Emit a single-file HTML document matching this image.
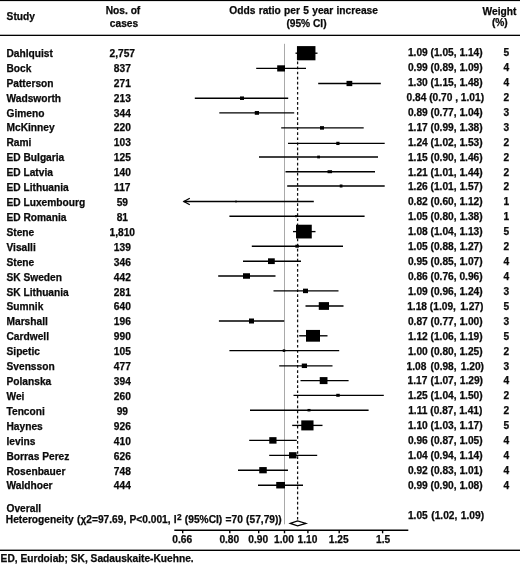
<!DOCTYPE html><html><head><meta charset="utf-8"><title>Forest plot</title>
<style>html,body{margin:0;padding:0;background:#fff}svg{display:block}text{font-family:"Liberation Sans",Arial,sans-serif;font-weight:bold;font-size:10.2px;fill:#0a0a0a;stroke:#0a0a0a;stroke-width:0.25px}.ax{font-size:10.2px}</style></head><body>
<svg width="520" height="564" viewBox="0 0 520 564" style="will-change:transform;filter:grayscale(1)">
<rect width="520" height="564" fill="#fff"/>
<rect x="0" y="0" width="520" height="1.1" fill="#000"/>
<rect x="0" y="34.7" width="520" height="1.3" fill="#000"/>
<rect x="0" y="549.6" width="520" height="1.4" fill="#000"/>
<text x="6.6" y="20.4">Study</text>
<text x="123" y="13.9" text-anchor="middle">Nos. of</text>
<text x="124" y="26.7" text-anchor="middle">cases</text>
<text x="303.6" y="14.0" text-anchor="middle" word-spacing="0.5">Odds ratio per 5 year increase</text>
<text x="306.5" y="26.6" text-anchor="middle">(95% CI)</text>
<text x="499.5" y="14.7" text-anchor="middle">Weight</text>
<text x="499.8" y="26.0" text-anchor="middle">(%)</text>
<line x1="284.5" y1="43.8" x2="284.5" y2="524.3" stroke="#999" stroke-width="0.85"/>
<line x1="297.6" y1="51.4" x2="297.6" y2="520.2" stroke="#111" stroke-width="1.25" stroke-dasharray="2.7,2.36"/>
<text x="6.5" y="56.80">Dahlquist</text>
<text x="122.3" y="56.80" text-anchor="middle">2,757</text>
<text x="445.3" y="56.20" text-anchor="middle" word-spacing="0">1.09 (1.05, 1.14)</text>
<text x="506.4" y="56.20" text-anchor="middle">5</text>
<line x1="295.5" y1="53.20" x2="317.5" y2="53.20" stroke="#000" stroke-width="1.35"/>
<rect x="296.95" y="46.10" width="18.50" height="14.20" fill="#000"/>
<text x="6.5" y="71.72">Bock</text>
<text x="122.3" y="71.72" text-anchor="middle">837</text>
<text x="445.3" y="71.12" text-anchor="middle" word-spacing="0">0.99 (0.89, 1.09)</text>
<text x="506.4" y="71.12" text-anchor="middle">4</text>
<line x1="256.2" y1="68.40" x2="306.0" y2="68.40" stroke="#000" stroke-width="1.35"/>
<rect x="277.20" y="65.30" width="7.80" height="6.20" fill="#000"/>
<text x="6.5" y="86.64">Patterson</text>
<text x="122.3" y="86.64" text-anchor="middle">271</text>
<text x="445.3" y="86.04" text-anchor="middle" word-spacing="0">1.30 (1.15, 1.48)</text>
<text x="506.4" y="86.04" text-anchor="middle">4</text>
<line x1="318.2" y1="83.50" x2="380.8" y2="83.50" stroke="#000" stroke-width="1.35"/>
<rect x="346.52" y="80.88" width="5.75" height="5.25" fill="#000"/>
<text x="6.5" y="101.56">Wadsworth</text>
<text x="122.3" y="101.56" text-anchor="middle">213</text>
<text x="445.3" y="100.96" text-anchor="middle" word-spacing="0">0.84 (0.70 , 1.01)</text>
<text x="506.4" y="100.96" text-anchor="middle">2</text>
<line x1="194.8" y1="98.20" x2="288.2" y2="98.20" stroke="#000" stroke-width="1.35"/>
<rect x="240.00" y="96.45" width="4.00" height="3.50" fill="#000"/>
<text x="6.5" y="117.08">Gimeno</text>
<text x="122.3" y="117.08" text-anchor="middle">344</text>
<text x="445.3" y="116.48" text-anchor="middle" word-spacing="0">0.89 (0.77, 1.04)</text>
<text x="506.4" y="116.48" text-anchor="middle">3</text>
<line x1="219.3" y1="112.90" x2="294.2" y2="112.90" stroke="#000" stroke-width="1.35"/>
<rect x="254.77" y="111.03" width="4.25" height="3.75" fill="#000"/>
<text x="6.5" y="131.40">McKinney</text>
<text x="122.3" y="131.40" text-anchor="middle">220</text>
<text x="445.3" y="130.80" text-anchor="middle" word-spacing="0">1.17 (0.99, 1.38)</text>
<text x="506.4" y="130.80" text-anchor="middle">3</text>
<line x1="281.2" y1="127.90" x2="363.7" y2="127.90" stroke="#000" stroke-width="1.35"/>
<rect x="320.00" y="126.15" width="4.00" height="3.50" fill="#000"/>
<text x="6.5" y="146.32">Rami</text>
<text x="122.3" y="146.32" text-anchor="middle">103</text>
<text x="445.3" y="145.72" text-anchor="middle" word-spacing="0">1.24 (1.02, 1.53)</text>
<text x="506.4" y="145.72" text-anchor="middle">2</text>
<line x1="288.0" y1="143.40" x2="384.7" y2="143.40" stroke="#000" stroke-width="1.35"/>
<rect x="336.27" y="141.78" width="3.25" height="3.25" fill="#000"/>
<text x="6.5" y="161.24">ED Bulgaria</text>
<text x="122.3" y="161.24" text-anchor="middle">125</text>
<text x="445.3" y="160.64" text-anchor="middle" word-spacing="0">1.15 (0.90, 1.46)</text>
<text x="506.4" y="160.64" text-anchor="middle">2</text>
<line x1="259.0" y1="157.00" x2="378.0" y2="157.00" stroke="#000" stroke-width="1.35"/>
<rect x="317.23" y="155.62" width="2.75" height="2.75" fill="#000"/>
<text x="6.5" y="176.16">ED Latvia</text>
<text x="122.3" y="176.16" text-anchor="middle">140</text>
<text x="445.3" y="175.56" text-anchor="middle" word-spacing="0">1.21 (1.01, 1.44)</text>
<text x="506.4" y="175.56" text-anchor="middle">2</text>
<line x1="285.5" y1="171.70" x2="375.0" y2="171.70" stroke="#000" stroke-width="1.35"/>
<rect x="327.55" y="170.20" width="4.50" height="3.00" fill="#000"/>
<text x="6.5" y="191.08">ED Lithuania</text>
<text x="122.3" y="191.08" text-anchor="middle">117</text>
<text x="445.3" y="190.48" text-anchor="middle" word-spacing="0">1.26 (1.01, 1.57)</text>
<text x="506.4" y="190.48" text-anchor="middle">2</text>
<line x1="287.2" y1="186.00" x2="384.7" y2="186.00" stroke="#000" stroke-width="1.35"/>
<rect x="339.73" y="184.50" width="2.75" height="3.00" fill="#000"/>
<text x="6.5" y="206.00">ED Luxembourg</text>
<text x="122.3" y="206.00" text-anchor="middle">59</text>
<text x="445.3" y="205.40" text-anchor="middle" word-spacing="0">0.82 (0.60, 1.12)</text>
<text x="506.4" y="205.40" text-anchor="middle">1</text>
<path d="M189.8 198.2 L183.9 201.5 L189.8 204.8" fill="none" stroke="#000" stroke-width="1.3" stroke-linejoin="miter"/>
<line x1="183.6" y1="201.50" x2="313.8" y2="201.50" stroke="#000" stroke-width="1.55"/>
<rect x="235.25" y="200.60" width="1.50" height="1.80" fill="#000"/>
<text x="6.5" y="220.92">ED Romania</text>
<text x="122.3" y="220.92" text-anchor="middle">81</text>
<text x="445.3" y="220.32" text-anchor="middle" word-spacing="0">1.05 (0.80, 1.38)</text>
<text x="506.4" y="220.32" text-anchor="middle">1</text>
<line x1="229.4" y1="216.20" x2="364.6" y2="216.20" stroke="#000" stroke-width="1.35"/>
<rect x="295.00" y="215.20" width="2.00" height="2.00" fill="#000"/>
<text x="6.5" y="235.84">Stene</text>
<text x="122.3" y="235.84" text-anchor="middle">1,810</text>
<text x="445.3" y="235.24" text-anchor="middle" word-spacing="0">1.08 (1.04, 1.13)</text>
<text x="506.4" y="235.24" text-anchor="middle">5</text>
<line x1="293.0" y1="231.60" x2="315.5" y2="231.60" stroke="#000" stroke-width="1.35"/>
<rect x="296.02" y="224.72" width="15.75" height="13.75" fill="#000"/>
<text x="6.5" y="250.76">Visalli</text>
<text x="122.3" y="250.76" text-anchor="middle">139</text>
<text x="445.3" y="250.16" text-anchor="middle" word-spacing="0">1.05 (0.88, 1.27)</text>
<text x="506.4" y="250.16" text-anchor="middle">2</text>
<line x1="251.8" y1="246.20" x2="343.0" y2="246.20" stroke="#000" stroke-width="1.35"/>
<rect x="295.35" y="244.70" width="3.50" height="3.00" fill="#000"/>
<text x="6.5" y="265.68">Stene</text>
<text x="122.3" y="265.68" text-anchor="middle">346</text>
<text x="445.3" y="265.08" text-anchor="middle" word-spacing="0">0.95 (0.85, 1.07)</text>
<text x="506.4" y="265.08" text-anchor="middle">4</text>
<line x1="243.0" y1="261.20" x2="301.0" y2="261.20" stroke="#000" stroke-width="1.35"/>
<rect x="268.02" y="258.32" width="6.75" height="5.75" fill="#000"/>
<text x="6.5" y="280.60">SK Sweden</text>
<text x="122.3" y="280.60" text-anchor="middle">442</text>
<text x="445.3" y="280.00" text-anchor="middle" word-spacing="0">0.86 (0.76, 0.96)</text>
<text x="506.4" y="280.00" text-anchor="middle">4</text>
<line x1="218.2" y1="276.00" x2="275.5" y2="276.00" stroke="#000" stroke-width="1.35"/>
<rect x="243.00" y="273.25" width="7.00" height="5.50" fill="#000"/>
<text x="6.5" y="295.52">SK Lithuania</text>
<text x="122.3" y="295.52" text-anchor="middle">281</text>
<text x="445.3" y="294.92" text-anchor="middle" word-spacing="0">1.09 (0.96, 1.24)</text>
<text x="506.4" y="294.92" text-anchor="middle">3</text>
<line x1="273.5" y1="290.90" x2="338.5" y2="290.90" stroke="#000" stroke-width="1.35"/>
<rect x="303.00" y="288.65" width="5.00" height="4.50" fill="#000"/>
<text x="6.5" y="310.44">Sumnik</text>
<text x="122.3" y="310.44" text-anchor="middle">640</text>
<text x="445.3" y="309.84" text-anchor="middle" word-spacing="0">1.18 (1.09,<tspan dx="1.4"> 1.27)</tspan></text>
<text x="506.4" y="309.84" text-anchor="middle">5</text>
<line x1="305.5" y1="306.00" x2="343.5" y2="306.00" stroke="#000" stroke-width="1.35"/>
<rect x="318.77" y="302.12" width="10.25" height="7.75" fill="#000"/>
<text x="6.5" y="325.36">Marshall</text>
<text x="122.3" y="325.36" text-anchor="middle">196</text>
<text x="445.3" y="324.76" text-anchor="middle" word-spacing="0">0.87 (0.77, 1.00)</text>
<text x="506.4" y="324.76" text-anchor="middle">3</text>
<line x1="218.9" y1="321.00" x2="284.2" y2="321.00" stroke="#000" stroke-width="1.35"/>
<rect x="249.00" y="318.50" width="5.00" height="5.00" fill="#000"/>
<text x="6.5" y="340.28">Cardwell</text>
<text x="122.3" y="340.28" text-anchor="middle">990</text>
<text x="445.3" y="339.68" text-anchor="middle" word-spacing="0">1.12 (1.06, 1.19)</text>
<text x="506.4" y="339.68" text-anchor="middle">5</text>
<line x1="299.2" y1="335.80" x2="327.5" y2="335.80" stroke="#000" stroke-width="1.35"/>
<rect x="306.00" y="329.93" width="14.00" height="11.75" fill="#000"/>
<text x="6.5" y="355.20">Sipetic</text>
<text x="122.3" y="355.20" text-anchor="middle">105</text>
<text x="445.3" y="354.60" text-anchor="middle" word-spacing="0">1.00 (0.80, 1.25)</text>
<text x="506.4" y="354.60" text-anchor="middle">2</text>
<line x1="229.4" y1="350.60" x2="339.2" y2="350.60" stroke="#000" stroke-width="1.35"/>
<rect x="282.75" y="349.35" width="2.50" height="2.50" fill="#000"/>
<text x="6.5" y="370.12">Svensson</text>
<text x="122.3" y="370.12" text-anchor="middle">477</text>
<text x="445.3" y="369.52" text-anchor="middle" word-spacing="1.3">1.08 (0.98, 1.20)</text>
<text x="506.4" y="369.52" text-anchor="middle">3</text>
<line x1="279.2" y1="365.80" x2="332.5" y2="365.80" stroke="#000" stroke-width="1.35"/>
<rect x="301.77" y="363.55" width="5.25" height="4.50" fill="#000"/>
<text x="6.5" y="385.04">Polanska</text>
<text x="122.3" y="385.04" text-anchor="middle">394</text>
<text x="445.3" y="384.44" text-anchor="middle" word-spacing="0.3">1.17 (1.07, 1.29)</text>
<text x="506.4" y="384.44" text-anchor="middle">4</text>
<line x1="300.5" y1="380.60" x2="348.6" y2="380.60" stroke="#000" stroke-width="1.35"/>
<rect x="319.73" y="377.10" width="7.75" height="7.00" fill="#000"/>
<text x="6.5" y="399.96">Wei</text>
<text x="122.3" y="399.96" text-anchor="middle">260</text>
<text x="445.3" y="399.36" text-anchor="middle" word-spacing="0">1.25 (1.04, 1.50)</text>
<text x="506.4" y="399.36" text-anchor="middle">2</text>
<line x1="293.5" y1="395.30" x2="383.8" y2="395.30" stroke="#000" stroke-width="1.35"/>
<rect x="336.25" y="393.80" width="3.50" height="3.00" fill="#000"/>
<text x="6.5" y="414.88">Tenconi</text>
<text x="122.3" y="414.88" text-anchor="middle">99</text>
<text x="445.3" y="414.28" text-anchor="middle" word-spacing="0">1.11 (0.87, 1.41)</text>
<text x="506.4" y="414.28" text-anchor="middle">2</text>
<line x1="250.0" y1="410.20" x2="368.6" y2="410.20" stroke="#000" stroke-width="1.35"/>
<rect x="307.50" y="408.95" width="3.00" height="2.50" fill="#000"/>
<text x="6.5" y="429.80">Haynes</text>
<text x="122.3" y="429.80" text-anchor="middle">926</text>
<text x="445.3" y="429.20" text-anchor="middle" word-spacing="0">1.10 (1.03, 1.17)</text>
<text x="506.4" y="429.20" text-anchor="middle">5</text>
<line x1="292.2" y1="425.40" x2="322.5" y2="425.40" stroke="#000" stroke-width="1.35"/>
<rect x="301.27" y="420.40" width="12.25" height="10.00" fill="#000"/>
<text x="6.5" y="444.72">Ievins</text>
<text x="122.3" y="444.72" text-anchor="middle">410</text>
<text x="445.3" y="444.12" text-anchor="middle" word-spacing="0">0.96 (0.87, 1.05)</text>
<text x="506.4" y="444.12" text-anchor="middle">4</text>
<line x1="249.2" y1="440.40" x2="296.8" y2="440.40" stroke="#000" stroke-width="1.35"/>
<rect x="269.27" y="437.15" width="7.25" height="6.50" fill="#000"/>
<text x="6.5" y="459.64">Borras Perez</text>
<text x="122.3" y="459.64" text-anchor="middle">626</text>
<text x="445.3" y="459.04" text-anchor="middle" word-spacing="0">1.04 (0.94, 1.14)</text>
<text x="506.4" y="459.04" text-anchor="middle">4</text>
<line x1="269.2" y1="455.30" x2="317.2" y2="455.30" stroke="#000" stroke-width="1.35"/>
<rect x="289.05" y="452.18" width="7.50" height="6.25" fill="#000"/>
<text x="6.5" y="474.56">Rosenbauer</text>
<text x="122.3" y="474.56" text-anchor="middle">748</text>
<text x="445.3" y="473.96" text-anchor="middle" word-spacing="0">0.92 (0.83, 1.01)</text>
<text x="506.4" y="473.96" text-anchor="middle">4</text>
<line x1="238.0" y1="470.20" x2="288.0" y2="470.20" stroke="#000" stroke-width="1.35"/>
<rect x="259.25" y="467.07" width="7.50" height="6.25" fill="#000"/>
<text x="6.5" y="489.48">Waldhoer</text>
<text x="122.3" y="489.48" text-anchor="middle">444</text>
<text x="445.3" y="488.88" text-anchor="middle" word-spacing="0">0.99 (0.90, 1.08)</text>
<text x="506.4" y="488.88" text-anchor="middle">4</text>
<line x1="258.0" y1="485.20" x2="303.0" y2="485.20" stroke="#000" stroke-width="1.35"/>
<rect x="276.23" y="481.95" width="8.75" height="6.50" fill="#000"/>
<text x="6.5" y="511.8">Overall</text>
<text x="5.8" y="523.0" word-spacing="0.45">Heterogeneity (χ2=97.69, P&lt;0.001, I<tspan dy="-3.3" dx="0.3" font-size="8.3">2</tspan><tspan dy="3.3"> (95%CI) =70 (57,79))</tspan></text>
<text x="446" y="519" text-anchor="middle" word-spacing="0.7">1.05 (1.02, 1.09)</text>
<path d="M290.3 523.4 L297.6 521.0 L305.9 523.4 L297.6 525.8 Z" fill="#fff" stroke="#000" stroke-width="1.2"/>
<line x1="174.3" y1="530.3" x2="408.3" y2="530.3" stroke="#000" stroke-width="1.4"/>
<line x1="182.7" y1="530.3" x2="182.7" y2="533.3" stroke="#000" stroke-width="1.4"/>
<text class="ax" x="182.2" y="543.3" text-anchor="middle">0.66</text>
<line x1="229.8" y1="530.3" x2="229.8" y2="533.3" stroke="#000" stroke-width="1.4"/>
<text class="ax" x="229.3" y="543.3" text-anchor="middle">0.80</text>
<line x1="258.7" y1="530.3" x2="258.7" y2="533.3" stroke="#000" stroke-width="1.4"/>
<text class="ax" x="258.2" y="543.3" text-anchor="middle">0.90</text>
<line x1="284.5" y1="530.3" x2="284.5" y2="533.3" stroke="#000" stroke-width="1.4"/>
<text class="ax" x="284.0" y="543.3" text-anchor="middle">1.00</text>
<line x1="307.9" y1="530.3" x2="307.9" y2="533.3" stroke="#000" stroke-width="1.4"/>
<text class="ax" x="307.4" y="543.3" text-anchor="middle">1.10</text>
<line x1="339.2" y1="530.3" x2="339.2" y2="533.3" stroke="#000" stroke-width="1.4"/>
<text class="ax" x="338.7" y="543.3" text-anchor="middle">1.25</text>
<line x1="382.6" y1="530.3" x2="382.6" y2="533.3" stroke="#000" stroke-width="1.4"/>
<text class="ax" x="383.1" y="543.3" text-anchor="middle">1.5</text>
<text x="0.6" y="562.3">ED, Eurdoiab; SK, Sadauskaite-Kuehne.</text>
</svg></body></html>
